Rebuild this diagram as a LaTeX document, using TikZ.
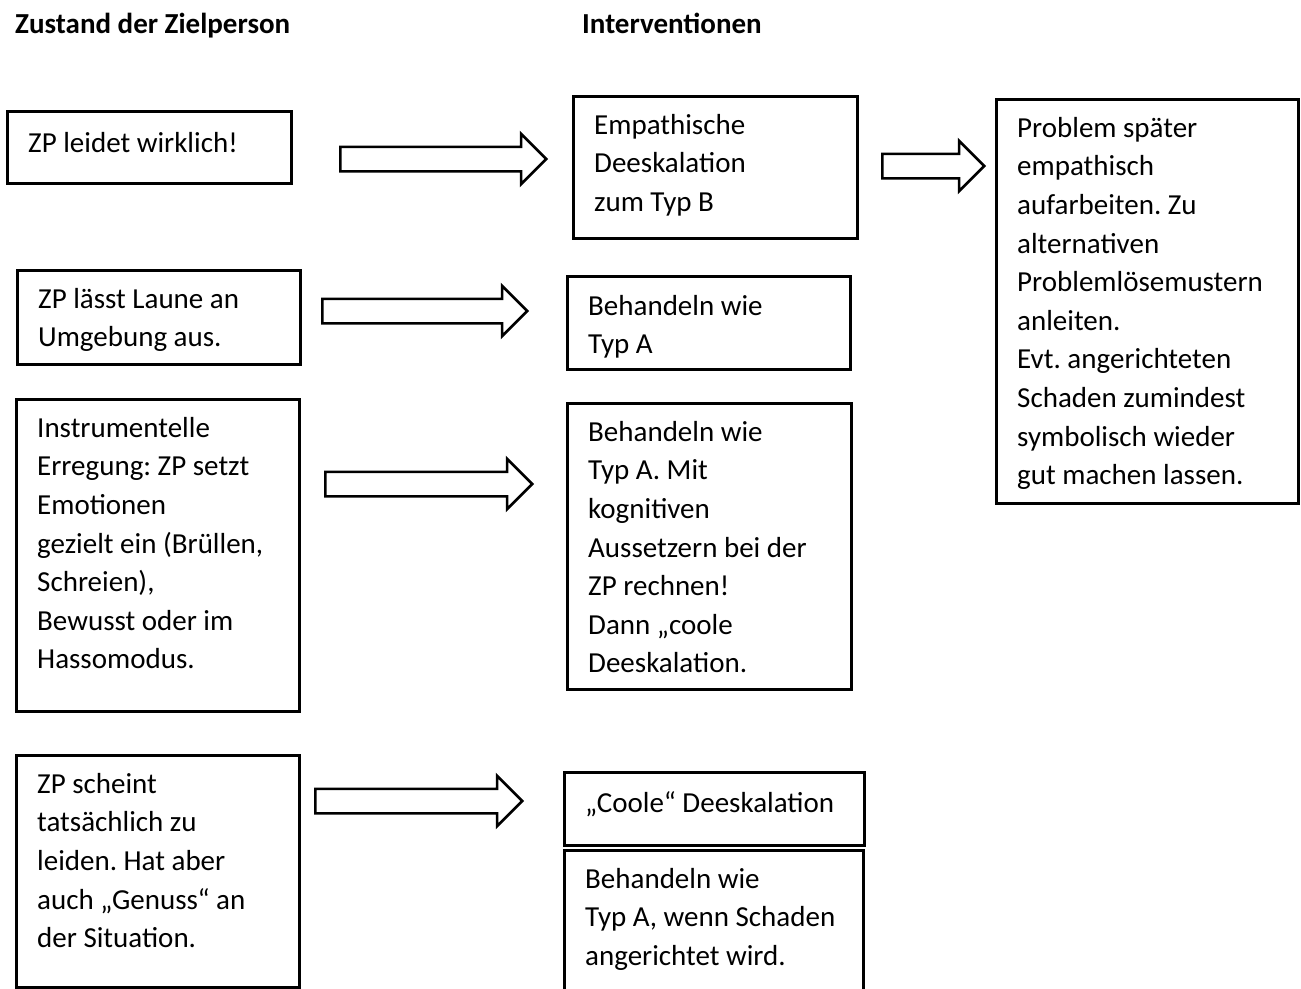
\documentclass[tikz,border=0pt]{standalone}
\usepackage{fontspec}
\setmainfont{Carlito}
\frenchspacing
\usetikzlibrary{shapes.arrows}
\tikzset{
  kasten/.style={draw, line width=2.5pt, rectangle, inner sep=0pt, anchor=north west},
  txt/.style={align=left, inner sep=0pt, anchor=north west, font=\fontsize{29}{38.6}\selectfont, execute at begin node=\strut},
  kopf/.style={inner sep=0pt, anchor=base west, font=\fontsize{29}{38.6}\selectfont\bfseries},
  pfeil/.style={single arrow, draw, line width=2.5pt, inner xsep=0pt, inner ysep=11pt, minimum width=50pt, single arrow head extend=13pt, single arrow tip angle=90, anchor=tail}
}

\begin{document}
\begin{tikzpicture}[x=1pt,y=-1pt]
  \useasboundingbox (0,0) rectangle (1301,988);

  \node[kopf] (h1) at (15,33) {Zustand der Zielperson};
  \node[kopf] (h2) at (582,33) {Interventionen};

  \node[kasten, minimum width=284pt, minimum height=72pt] (z1) at (6,110) {};
  \node[kasten, minimum width=283pt, minimum height=94pt] (z2) at (16,269) {};
  \node[kasten, minimum width=283pt, minimum height=312pt] (z3) at (15,398) {};
  \node[kasten, minimum width=283pt, minimum height=232pt] (z4) at (15,754) {};

  \node[kasten, minimum width=284pt, minimum height=142pt] (i1) at (572,95) {};
  \node[kasten, minimum width=302pt, minimum height=404pt] (i2) at (995,98) {};
  \node[kasten, minimum width=283pt, minimum height=93pt] (i3) at (566,275) {};
  \node[kasten, minimum width=284pt, minimum height=286pt] (i4) at (566,402) {};
  \node[kasten, minimum width=300pt, minimum height=73pt] (i5) at (563,771) {};
  \node[kasten, minimum width=299pt, minimum height=161pt] (i6) at (563,849) {};

  \node[txt] (tz1) at ([xshift=22pt,yshift=-15pt]z1.north west) {ZP leidet wirklich!};
  \node[txt] (tz2) at ([xshift=22pt,yshift=-19pt]z2.north west) {ZP lässt Laune an\\Umgebung aus.};
  \node[txt] (tz3) at ([xshift=22pt,yshift=-19pt]z3.north west) {Instrumentelle\\Erregung: ZP setzt\\Emotionen\\gezielt ein (Brüllen,\\Schreien),\\Bewusst oder im\\Hassomodus.};
  \node[txt] (tz4) at ([xshift=22pt,yshift=-19pt]z4.north west) {ZP scheint\\tatsächlich zu\\leiden. Hat aber\\auch „Genuss“ an\\der Situation.};

  \node[txt] (ti1) at ([xshift=22pt,yshift=-19pt]i1.north west) {Empathische\\Deeskalation\\zum Typ B};
  \node[txt] (ti2) at ([xshift=22pt,yshift=-19pt]i2.north west) {Problem später\\empathisch\\aufarbeiten. Zu\\alternativen\\Problemlösemustern\\anleiten.\\Evt. angerichteten\\Schaden zumindest\\symbolisch wieder\\gut machen lassen.};
  \node[txt] (ti3) at ([xshift=22pt,yshift=-20pt]i3.north west) {Behandeln wie\\Typ A};
  \node[txt] (ti4) at ([xshift=22pt,yshift=-19pt]i4.north west) {Behandeln wie\\Typ A. Mit\\kognitiven\\Aussetzern bei der\\ZP rechnen!\\Dann „coole\\Deeskalation.};
  \node[txt] (ti5) at ([xshift=22pt,yshift=-14pt]i5.north west) {„Coole“ Deeskalation};
  \node[txt] (ti6) at ([xshift=22pt,yshift=-19pt]i6.north west) {Behandeln wie\\Typ A, wenn Schaden\\angerichtet wird.};

  \node[pfeil, minimum height=206pt] (p1) at (339,159) {};
  \node[pfeil, minimum height=102pt] (p2) at (881,166) {};
  \node[pfeil, minimum height=205pt] (p3) at (321,311) {};
  \node[pfeil, minimum height=207pt] (p4) at (324,484) {};
  \node[pfeil, minimum height=207pt] (p5) at (314,801) {};
\end{tikzpicture}
\end{document}
